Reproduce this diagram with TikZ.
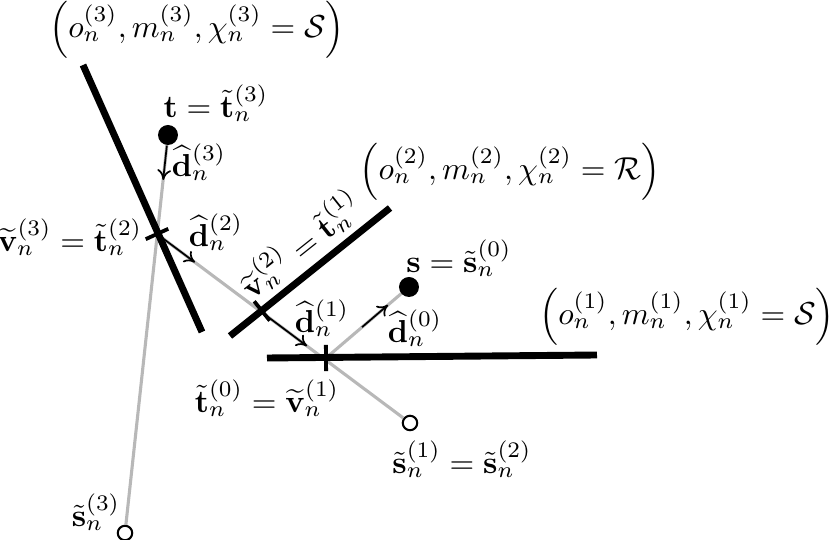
\documentclass[tikz,border=0pt]{standalone}
\usepackage{amsmath,amssymb}
\usetikzlibrary{arrows.meta,calc}
\begin{document}
\begin{tikzpicture}[x=0.29pt,y=-0.29pt,
  wall/.style={line width=2pt,line cap=butt},
  ray/.style={line width=0.9pt,black!28},
  dirarrow/.style={line width=0.5pt,-{To[length=3pt,width=4pt]}},
  tickmark/.style={line width=1.1pt},
  srcpt/.style={circle,fill=black,inner sep=0pt,minimum size=5.8pt},
  imgpt/.style={circle,draw=black,fill=white,line width=0.6pt,inner sep=0pt,minimum size=4.2pt},
  lbl/.style={inner sep=0pt,scale=0.92}]
\useasboundingbox (0,0) rectangle (830,540);
% walls
\coordinate (w3a) at (83,65);  \coordinate (w3b) at (202,332);
\coordinate (w2a) at (230,336); \coordinate (w2b) at (390,208);
\coordinate (w1a) at (267,358); \coordinate (w1b) at (597,355);
% reflection points
\coordinate (v3) at (157,234);
\coordinate (v2) at (262,311);
\coordinate (v1) at (326,358);
% rays
\node[imgpt] (s3) at (125,533) {};
\node[imgpt] (s1) at (410,423) {};
\draw[ray] (168,135) -- (s3);
\draw[ray] (v3) -- (s1);
\draw[ray] (v1) -- (409,287);
% walls drawn
\draw[wall] (w3a) -- (w3b);
\draw[wall] (w2a) -- (w2b);
\draw[wall] (w1a) -- (w1b);
% source nodes
\node[srcpt] (t) at (168,135) {};
\node[srcpt] (s) at (409,287) {};
% ticks
\draw[tickmark] ($(v3)!3.6pt!90:(w3b)$) -- ($(v3)!3.6pt!-90:(w3b)$);
\draw[tickmark] ($(v2)!3.6pt!90:(w2b)$) -- ($(v2)!3.6pt!-90:(w2b)$);
\draw[tickmark] ($(v1)!3.8pt!90:(w1b)$) -- ($(v1)!3.8pt!-90:(w1b)$);
% direction arrows
\coordinate (a3) at ($(t.center)!0.113!(s3.center)$);
\coordinate (a2) at ($(v3)!0.15!(s1.center)$);
\coordinate (a1s) at ($(v3)!0.427!(s1.center)$);
\coordinate (a1e) at ($(v3)!0.593!(s1.center)$);
\coordinate (a0s) at ($(v1)!0.434!(s.center)$);
\coordinate (a0e) at ($(v1)!0.747!(s.center)$);
\draw[dirarrow] (t) -- (a3);
\draw[dirarrow] (v3) -- (a2);
\draw[dirarrow] (a1s) -- (a1e);
\draw[dirarrow] (a0s) -- (a0e);
% labels
\node[lbl] (L3) at (197,30) {$\Big(o_n^{(3)}, m_n^{(3)}, \chi_n^{(3)} = \mathcal{S}\Big)$};
\node[lbl] (L2) at (510,172) {$\Big(o_n^{(2)}, m_n^{(2)}, \chi_n^{(2)} = \mathcal{R}\Big)$};
\node[lbl] (L1) at (687,317) {$\Big(o_n^{(1)}, m_n^{(1)}, \chi_n^{(1)} = \mathcal{S}\Big)$};
\node[lbl] (tl) at (216,103) {$\mathbf{t} = \tilde{\mathbf{t}}_n^{(3)}$};
\node[lbl] (d3l) at (199,162) {$\widehat{\mathbf{d}}_n^{(3)}$};
\node[lbl] (v3l) at (70,237) {$\widetilde{\mathbf{v}}_n^{(3)} = \tilde{\mathbf{t}}_n^{(2)}$};
\node[lbl] (d2l) at (216,232) {$\widehat{\mathbf{d}}_n^{(2)}$};
\node[lbl,rotate=38.5] (v2l) at (300,244) {$\widetilde{\mathbf{v}}_n^{(2)} = \tilde{\mathbf{t}}_n^{(1)}$};
\node[lbl] (sl) at (459,258) {$\mathbf{s} = \tilde{\mathbf{s}}_n^{(0)}$};
\node[lbl] (d1l) at (322,318) {$\widehat{\mathbf{d}}_n^{(1)}$};
\node[lbl] (d0l) at (415,328) {$\widehat{\mathbf{d}}_n^{(0)}$};
\node[lbl] (t0l) at (267,398) {$\tilde{\mathbf{t}}_n^{(0)} = \widetilde{\mathbf{v}}_n^{(1)}$};
\node[lbl] (s1l) at (462,459) {$\tilde{\mathbf{s}}_n^{(1)} = \tilde{\mathbf{s}}_n^{(2)}$};
\node[lbl] (s3l) at (96,512) {$\tilde{\mathbf{s}}_n^{(3)}$};
\end{tikzpicture}
\end{document}
